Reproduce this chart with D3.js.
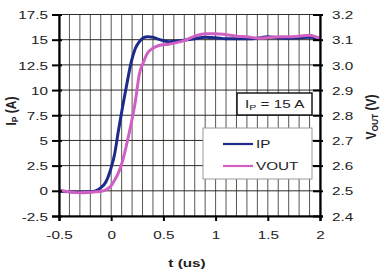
<!DOCTYPE html>
<html><head><meta charset="utf-8">
<script src="https://cdn.jsdelivr.net/npm/d3@7"></script>
<style>
html,body{margin:0;padding:0;background:#fff;}
svg{display:block;font-family:"Liberation Sans",Arial,sans-serif;}
</style></head>
<body>
<svg id="chart" width="383" height="269"></svg>
<script>
// ---- data ----
const timeUs = [-0.5,-0.4,-0.3,-0.2,-0.15,-0.1,-0.05,0,0.03,0.07,0.11,0.15,0.19,0.23,0.27,0.31,0.35,0.4,0.45,0.5,0.55,0.6,0.7,0.8,0.9,1.0,1.1,1.2,1.3,1.4,1.5,1.6,1.7,1.8,1.9,2.0];
const ipAmps = [-0.05,-0.1,-0.15,-0.1,0.0,0.3,0.9,2.3,3.5,6.0,8.4,10.6,12.7,14.1,14.8,15.2,15.3,15.25,15.05,14.9,14.8,14.85,14.95,15.1,15.25,15.2,15.1,15.1,15.1,15.15,15.3,15.2,15.15,15.2,15.25,15.15];
const voutVolts = [2.502,2.496,2.492,2.494,2.496,2.498,2.504,2.52,2.54,2.572,2.62,2.688,2.764,2.852,2.964,3.012,3.048,3.066,3.076,3.08,3.082,3.086,3.096,3.114,3.124,3.124,3.12,3.114,3.112,3.106,3.108,3.112,3.112,3.114,3.118,3.104];
const xTicks = [-0.5,0,0.5,1,1.5,2];
const xTickLabels = ["-0.5","0","0.5","1","1.5","2"];
const yLeftTicks = [-2.5,0,2.5,5,7.5,10,12.5,15,17.5];
const yLeftTickLabels = ["-2.5","0","2.5","5","7.5","10","12.5","15","17.5"];
const yRightTicks = [2.4,2.5,2.6,2.7,2.8,2.9,3.0,3.1,3.2];
const yRightTickLabels = ["2.4","2.5","2.6","2.7","2.8","2.9","3.0","3.1","3.2"];
const xMinorGrid = d3.range(-5,21).map(i=>i/10);
const seriesNames = ["IP","VOUT"];
const seriesColors = ["#1d2a8c","#d060c4"];

// ---- layout ----
const L=59, R=320, T=14.5, B=216;
const SX=1.33; // horizontal text stretch of the reference
const svg = d3.select("#chart");
const x = d3.scaleLinear().domain([-0.5,2]).range([L,R]);
const yL = d3.scaleLinear().domain([-2.5,17.5]).range([B,T]);
const yR = d3.scaleLinear().domain([2.4,3.2]).range([B,T]);

// grid
const grid = svg.append("g");
grid.selectAll("line.v").data(xMinorGrid).join("line")
  .attr("x1",d=>x(d)).attr("x2",d=>x(d)).attr("y1",T).attr("y2",B)
  .attr("stroke","#5a5550").attr("stroke-width",1);
grid.selectAll("line.h").data(yLeftTicks).join("line")
  .attr("x1",L).attr("x2",R).attr("y1",d=>yL(d)).attr("y2",d=>yL(d))
  .attr("stroke","#2e2a28").attr("stroke-width",1);

// series
const lineIp = d3.line().x((d,i)=>x(timeUs[i])).y(d=>yL(d)).curve(d3.curveMonotoneX);
const lineV = d3.line().x((d,i)=>x(timeUs[i])).y(d=>yR(d)).curve(d3.curveMonotoneX);
svg.append("path").attr("d",lineIp(ipAmps)).attr("fill","none")
  .attr("stroke",seriesColors[0]).attr("stroke-width",3).attr("stroke-linejoin","round");
svg.append("path").attr("d",lineV(voutVolts)).attr("fill","none")
  .attr("stroke",seriesColors[1]).attr("stroke-width",3).attr("stroke-linejoin","round");

function stretchText(sel, anchor){
  sel.each(function(){
    const t=d3.select(this);
    const tx=+t.attr("x")||0, ty=+t.attr("y")||0;
    t.attr("x",0).attr("y",0)
     .attr("transform",`translate(${tx},${ty}) scale(${SX},1)`)
     .attr("text-anchor",anchor);
  });
}

// left axis
const axL = svg.append("g").attr("transform",`translate(${L},0)`)
  .call(d3.axisLeft(yL).tickValues(yLeftTicks).tickFormat((d,i)=>yLeftTickLabels[i]).tickSize(7).tickPadding(4));
axL.select(".domain").attr("stroke","#000").attr("stroke-width",2.2);
axL.selectAll(".tick line").attr("x1",3).attr("stroke","#000").attr("stroke-width",2);
axL.selectAll(".tick text").attr("font-size",11.5).attr("fill","#222").attr("dy","0.36em");
stretchText(axL.selectAll(".tick text"),"end");

// right axis
const axR = svg.append("g").attr("transform",`translate(${R},0)`)
  .call(d3.axisRight(yR).tickValues(yRightTicks).tickFormat((d,i)=>yRightTickLabels[i]).tickSize(3).tickPadding(9));
axR.select(".domain").attr("stroke","#000").attr("stroke-width",2.2);
axR.selectAll(".tick line").attr("x1",-7).attr("stroke","#000").attr("stroke-width",2);
axR.selectAll(".tick text").attr("font-size",11.5).attr("fill","#222").attr("dy","0.36em");
stretchText(axR.selectAll(".tick text"),"start");

// bottom axis
const axB = svg.append("g").attr("transform",`translate(0,${B})`)
  .call(d3.axisBottom(x).tickValues(xTicks).tickFormat((d,i)=>xTickLabels[i]).tickSize(5).tickPadding(14));
axB.select(".domain").attr("stroke","#000").attr("stroke-width",2.2);
axB.selectAll(".tick line").attr("stroke","#000").attr("stroke-width",2);
axB.selectAll(".tick text").attr("font-size",11.5).attr("fill","#222").attr("dy","0.36em");
stretchText(axB.selectAll(".tick text"),"middle");

// axis titles
const tX = svg.append("text").attr("transform",`translate(187,263) scale(${SX},1)`)
  .attr("text-anchor","middle").attr("dy","0.36em").attr("font-size",11.5).attr("font-weight","bold").attr("fill","#222");
tX.text("t (us)");

const tL = svg.append("text").attr("transform",`translate(11,111) scale(1.15,1) rotate(-90)`)
  .attr("text-anchor","middle").attr("dy","0.36em").attr("font-size",12).attr("font-weight","bold").attr("fill","#222");
tL.append("tspan").text("I");
tL.append("tspan").attr("font-size",8.5).attr("dy","0.25em").text("P");
tL.append("tspan").attr("dy","-0.2em").text(" (A)");

const tR = svg.append("text").attr("transform",`translate(371,117) scale(1.15,1) rotate(-90)`)
  .attr("text-anchor","middle").attr("dy","0.36em").attr("font-size",12).attr("font-weight","bold").attr("fill","#222");
tR.append("tspan").text("V");
tR.append("tspan").attr("font-size",8.5).attr("dy","0.25em").text("OUT");
tR.append("tspan").attr("dy","-0.2em").text(" (V)");

// annotation box
svg.append("rect").attr("x",237).attr("y",93).attr("width",75).attr("height",22)
  .attr("fill","#fff").attr("stroke","#1a1a1a").attr("stroke-width",1.5);
const ann = svg.append("text").attr("transform",`translate(245,104) scale(${SX},1)`)
  .attr("dy","0.36em").attr("font-size",11.5).attr("fill","#222");
ann.append("tspan").text("I");
ann.append("tspan").attr("font-size",8).attr("dy","0.25em").text("P");
ann.append("tspan").attr("dy","-0.2em").text(" = 15  A");

// legend
svg.append("rect").attr("x",203).attr("y",128).attr("width",109).attr("height",51)
  .attr("fill","#fff").attr("stroke","#9a9a9a").attr("stroke-width",1);
const leg = svg.append("g").selectAll("g").data(seriesNames).join("g")
  .attr("transform",(d,i)=>`translate(223,${144+i*22})`);
leg.append("line").attr("x1",0).attr("x2",30).attr("y1",0).attr("y2",0)
  .attr("stroke",(d,i)=>seriesColors[i]).attr("stroke-width",2.2);
leg.append("text").attr("transform",`translate(33,0) scale(${SX},1)`).attr("dy","0.36em")
  .attr("font-size",11.5).attr("fill","#222").text(d=>d);
</script>
</body></html>
